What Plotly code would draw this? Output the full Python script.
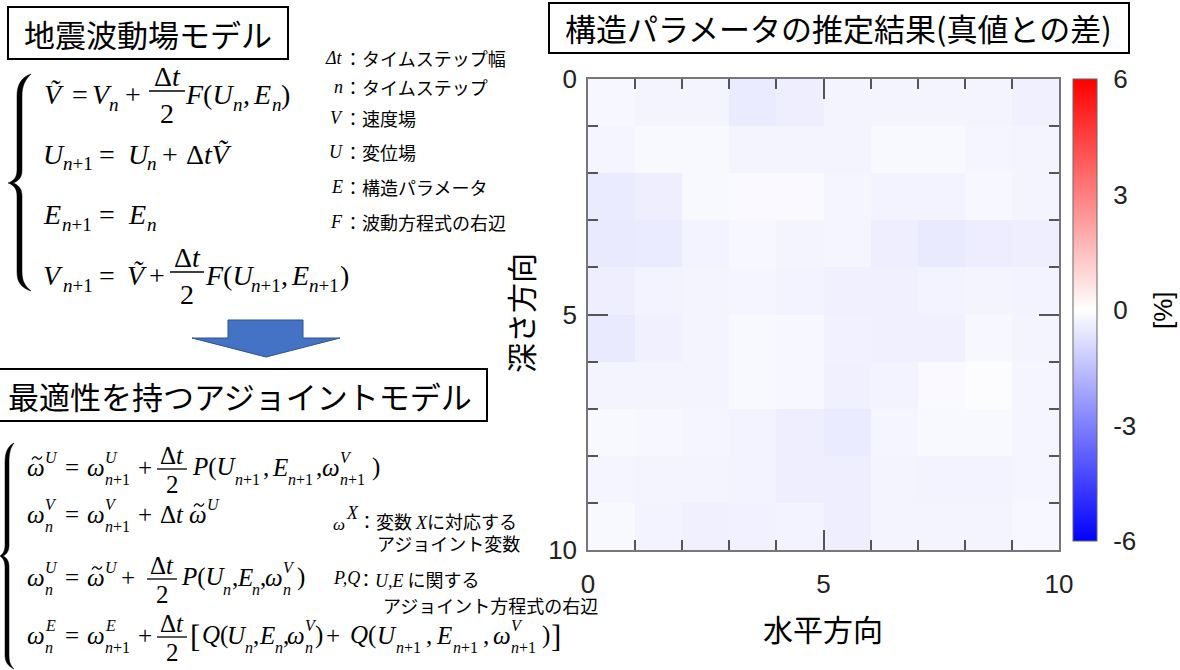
import re
import plotly.graph_objects as go

W, H = 1180, 670

# ---- data: estimated structure-parameter error [%] on a 10 x 10 grid
# rows: depth 0..9 (top to bottom), columns: horizontal 0..9
cell_centers = [0.5, 1.5, 2.5, 3.5, 4.5, 5.5, 6.5, 7.5, 8.5, 9.5]
diff_pct = [
    [-0.20, -0.26, -0.26, -0.46, -0.40, -0.26, -0.26, -0.26, -0.26, -0.36],
    [-0.24, -0.16, -0.16, -0.26, -0.26, -0.26, -0.16, -0.16, -0.24, -0.26],
    [-0.46, -0.40, -0.16, -0.13, -0.13, -0.24, -0.29, -0.29, -0.20, -0.26],
    [-0.50, -0.46, -0.29, -0.20, -0.26, -0.24, -0.40, -0.50, -0.42, -0.40],
    [-0.40, -0.29, -0.26, -0.24, -0.29, -0.36, -0.36, -0.29, -0.26, -0.29],
    [-0.50, -0.36, -0.26, -0.16, -0.20, -0.33, -0.36, -0.36, -0.20, -0.26],
    [-0.26, -0.26, -0.26, -0.16, -0.20, -0.36, -0.29, -0.13, -0.07, -0.24],
    [-0.16, -0.20, -0.24, -0.29, -0.40, -0.46, -0.24, -0.16, -0.16, -0.24],
    [-0.24, -0.26, -0.26, -0.29, -0.40, -0.40, -0.26, -0.29, -0.29, -0.24],
    [-0.16, -0.29, -0.36, -0.33, -0.29, -0.40, -0.26, -0.26, -0.26, -0.20],
]
axis_ticks = [0, 5, 10]
minor_ticks = [1, 2, 3, 4, 6, 7, 8, 9]
cbar_ticks = [-6, -3, 0, 3, 6]
cbar_lines = [-3, 0, 3]
cbar_range = [-6, 6]

SERIF = "Liberation Serif, Times New Roman, serif"
SANS = "Liberation Sans, Arial, sans-serif"
JP = "Noto Sans CJK JP, sans-serif"


def px(x):
    return x / W


def py(y):
    return 1 - y / H


def pix_path(s):
    return re.sub(r"(-?\d+\.?\d*),(-?\d+\.?\d*)",
                  lambda m: f"{px(float(m[1])):.5f},{py(float(m[2])):.5f}", s)


# ---- heatmap panel
PLOT_L, PLOT_R, PLOT_T, PLOT_B = 588, 1059, 79, 550
CB_L, CB_W, CB_T, CB_B = 1073, 24, 79, 541

fig = go.Figure(go.Heatmap(
    z=diff_pct, x=cell_centers, y=cell_centers,
    zmin=cbar_range[0], zmax=cbar_range[1],
    colorscale=[[0, "#0000ff"], [0.5, "#ffffff"], [1, "#ff0000"]],
    hoverinfo="skip",
    colorbar=dict(
        x=px(CB_L), xanchor="left", xpad=0, ypad=0,
        y=py(CB_B), yanchor="bottom", len=CB_B - CB_T, lenmode="pixels",
        thickness=CB_W, thicknessmode="pixels",
        outlinewidth=1, outlinecolor="#666",
        tickvals=cbar_ticks, ticktext=[str(v) for v in cbar_ticks],
        ticks="outside", ticklen=11, tickcolor="rgba(0,0,0,0)",
        tickfont=dict(family=SANS, size=26, color="#222"),
    ),
))

axis_common = dict(
    tickvals=axis_ticks, ticktext=[str(v) for v in axis_ticks],
    ticks="inside", ticklen=20, tickwidth=1.5, tickcolor="#555",
    showline=True, linecolor="#777", linewidth=1.5, mirror="allticks",
    showgrid=False, zeroline=False, automargin=False,
    tickfont=dict(family=SANS, size=26, color="#222"),
    minor=dict(tickvals=minor_ticks, ticks="inside", ticklen=10,
               tickwidth=1.5, tickcolor="#555", showgrid=False),
)
fig.update_xaxes(domain=[px(PLOT_L), px(PLOT_R)], range=[0, 10],
                 ticklabelstandoff=10, **axis_common)
fig.update_yaxes(domain=[py(PLOT_B), py(PLOT_T)], range=[10, 0],
                 ticklabelstandoff=4, **axis_common)

shapes = []
annotations = []


def note(x, y, text, size, family=SERIF, xanchor="left", angle=0, color="#000"):
    annotations.append(dict(
        x=px(x), y=py(y), xref="paper", yref="paper", text=text,
        showarrow=False, xanchor=xanchor, yanchor="middle", textangle=angle,
        borderpad=0, borderwidth=0,
        font=dict(family=family, size=size, color=color)))


def hline(x0, x1, y, width=1.3, color="#000"):
    shapes.append(dict(type="line", xref="paper", yref="paper",
                       x0=px(x0), x1=px(x1), y0=py(y), y1=py(y),
                       line=dict(color=color, width=width)))


def tilde(xc, yc):
    # small wave accent drawn above a symbol
    shapes.append(dict(type="path", xref="paper", yref="paper",
                       path=pix_path(f"M {xc - 5},{yc + 1.5} Q {xc - 2.5},{yc - 3} {xc},{yc} "
                                     f"Q {xc + 2.5},{yc + 3} {xc + 5},{yc - 1.5}"),
                       line=dict(color="#000", width=1.3)))


def box(x0, y0, x1, y1):
    shapes.append(dict(type="rect", xref="paper", yref="paper",
                       x0=px(x0), x1=px(x1), y0=py(y0), y1=py(y1),
                       line=dict(color="#000", width=2), fillcolor="rgba(0,0,0,0)"))


# colorbar separators at -3, 0, 3
for v in cbar_lines:
    yv = CB_B - (v - cbar_range[0]) / (cbar_range[1] - cbar_range[0]) * (CB_B - CB_T)
    hline(CB_L, CB_L + CB_W, yv, width=1, color="#444")

note(823, 628, "水平方向", 30, JP, xanchor="center")
note(520, 313, "深さ方向", 30, JP, xanchor="center", angle=-90)
note(1163, 310, "[%]", 26, SANS, xanchor="center", angle=-90)

# ---- title boxes
box(8, 7, 288, 59)
note(148, 33, "地震波動場モデル", 31, JP, xanchor="center")
box(-3, 369, 487, 421)
note(240, 395, "最適性を持つアジョイントモデル", 31, JP, xanchor="center")
box(549, 3, 1129, 53)
note(839, 28, "構造パラメータの推定結果(真値との差)", 31, JP, xanchor="center")

# ---- arrow between the two models
shapes.append(dict(type="path", xref="paper", yref="paper",
                   path=pix_path("M 228,320 L 303,320 L 303,338 L 340,338 L 266,357 L 192,338 L 228,338 Z"),
                   fillcolor="#4472C4", line=dict(color="#2F528F", width=1)))

# ---- braces
shapes.append(dict(type="path", xref="paper", yref="paper", fillcolor="#000",
                   line=dict(color="#000", width=0.5),
                   path=pix_path(
                       "M 31,74 C 22,77 17,84 17,96 L 17,170 C 17,177 14,181 8,183 "
                       "C 14,185 17,189 17,196 L 17,272 C 17,283 22,288 31,291 "
                       "C 25,286 22,281 22,272 L 22,196 C 22,189 19,185 13,183 "
                       "C 19,181 22,177 22,170 L 22,96 C 22,86 25,80 31,74 Z")))
shapes.append(dict(type="path", xref="paper", yref="paper", fillcolor="#000",
                   line=dict(color="#000", width=0.5),
                   path=pix_path(
                       "M 14,443 C 8,446 5,452 5,462 L 5,545 C 5,551 3,554 0,556 "
                       "C 3,558 5,561 5,567 L 5,655 C 5,662 8,666 14,669 "
                       "C 10,665 9,661 9,655 L 9,567 C 9,561 7,558 3,556 "
                       "C 7,554 9,551 9,545 L 9,462 C 9,455 10,448 14,443 Z")))


# ---- equations
def math_row(base_y, tokens, F, S, dsup, dsub, frac_dy, num_dy, den_dy, tilde_dy):
    for tok in tokens:
        kind = tok[0]
        if kind == "b":
            note(tok[1], base_y, tok[2], F)
        elif kind == "big":
            note(tok[1], base_y + 1, tok[2], F + 6)
        elif kind == "sup":
            note(tok[1], base_y + dsup, tok[2], S)
        elif kind == "sub":
            note(tok[1], base_y + dsub, tok[2], S)
        elif kind == "tilde":
            tilde(tok[1], base_y + tilde_dy)
        elif kind == "frac":
            xc, hw, num, den = tok[1], tok[2], tok[3], tok[4]
            ly = base_y + frac_dy
            hline(xc - hw, xc + hw, ly)
            note(xc, ly + num_dy, num, F, xanchor="center")
            note(xc, ly + den_dy, den, F, xanchor="center")


VT = "<i>\u1e7c</i>"          # V with tilde
W_ = "<i>\u03c9</i>"
DT = "\u0394<i>t</i>"
N1 = "<i>n</i>+1"
N = "<i>n</i>"

forward_rows = [
    (94, [("b", 44, VT), ("b", 72, "="), ("b", 92, "<i>V</i>"), ("sub", 109, N), ("b", 125, "+"),
          ("frac", 167, 18, DT, "2"),
          ("b", 185, "<i>F</i>(<i>U</i>"), ("sub", 233, N), ("b", 243, ","), ("b", 253, "<i>E</i>"),
          ("sub", 272, N), ("b", 281, ")")]),
    (154, [("b", 43, "<i>U</i>"), ("sub", 63, N1), ("b", 99, "="), ("b", 128, "<i>U</i>"),
           ("sub", 147, N), ("b", 162, "+"), ("b", 186, DT + VT)]),
    (214, [("b", 43, "<i>E</i>"), ("sub", 62, N1), ("b", 99, "="), ("b", 128, "<i>E</i>"),
           ("sub", 147, N)]),
    (275, [("b", 43, "<i>V</i>"), ("sub", 63, N1), ("b", 99, "="), ("b", 127, VT), ("b", 149, "+"),
           ("frac", 187, 17, DT, "2"),
           ("b", 205, "<i>F</i>(<i>U</i>"), ("sub", 251, N1), ("b", 281, ","), ("b", 291, "<i>E</i>"),
           ("sub", 309, N1), ("b", 340, ")")]),
]
for y, toks in forward_rows:
    math_row(y, toks, 28, 19, -9, 10, -3, -15, 22, -12)

adjoint_rows = [
    (467, [("b", 27, W_), ("tilde", 37), ("sup", 45, "<i>U</i>"), ("b", 65, "="), ("b", 87, W_),
           ("sup", 105, "<i>U</i>"), ("sub", 105, N1), ("b", 138, "+"),
           ("frac", 172, 15, DT, "2"),
           ("b", 192, "<i>P</i>(<i>U</i>"), ("sub", 235, N1), ("b", 263, ","), ("b", 272, "<i>E</i>"),
           ("sub", 288, N1), ("b", 316, ","), ("b", 322, W_), ("sup", 340, "<i>V</i>"),
           ("sub", 340, N1), ("b", 372, ")")]),
    (514, [("b", 27, W_), ("sup", 45, "<i>V</i>"), ("sub", 45, N), ("b", 65, "="), ("b", 87, W_),
           ("sup", 105, "<i>V</i>"), ("sub", 105, N1), ("b", 138, "+"), ("b", 160, DT),
           ("b", 189, W_), ("tilde", 199), ("sup", 207, "<i>U</i>")]),
    (577, [("b", 27, W_), ("sup", 45, "<i>U</i>"), ("sub", 45, N), ("b", 65, "="), ("b", 87, W_),
           ("tilde", 97), ("sup", 105, "<i>U</i>"), ("b", 121, "+"),
           ("frac", 162, 15, DT, "2"),
           ("b", 181, "<i>P</i>(<i>U</i>"), ("sub", 223, N), ("b", 232, ","), ("b", 237, "<i>E</i>"),
           ("sub", 252, N), ("b", 260, ","), ("b", 265, W_), ("sup", 283, "<i>V</i>"),
           ("sub", 283, N), ("b", 297, ")")]),
    (635, [("b", 27, W_), ("sup", 45, "<i>E</i>"), ("sub", 45, N), ("b", 65, "="), ("b", 87, W_),
           ("sup", 105, "<i>E</i>"), ("sub", 105, N1), ("b", 138, "+"),
           ("frac", 172, 15, DT, "2"),
           ("big", 190, "["), ("b", 202, "<i>Q</i>("), ("b", 227, "<i>U</i>"), ("sub", 245, N),
           ("b", 253, ","), ("b", 259, "<i>E</i>"), ("sub", 275, N), ("b", 283, ","), ("b", 287, W_),
           ("sup", 305, "<i>V</i>"), ("sub", 305, N), ("b", 315, ")"), ("b", 326, "+"),
           ("b", 350, "<i>Q</i>("), ("b", 377, "<i>U</i>"), ("sub", 396, N1), ("b", 426, ","),
           ("b", 436, "<i>E</i>"), ("sub", 453, N1), ("b", 483, ","), ("b", 493, W_),
           ("sup", 511, "<i>V</i>"), ("sub", 511, N1), ("b", 542, ")"), ("big", 551, "]")]),
]
for y, toks in adjoint_rows:
    math_row(y, toks, 25, 16, -10, 12, 2, -14, 15, -9)

# ---- symbol glossary
forward_glossary = [
    (58, "<i>\u0394t</i>", "タイムステップ幅"),
    (87, "<i>n</i>", "タイムステップ"),
    (118, "<i>V</i>", "速度場"),
    (152, "<i>U</i>", "変位場"),
    (187, "<i>E</i>", "構造パラメータ"),
    (222, "<i>F</i>", "波動方程式の右辺"),
]
for y, sym, txt in forward_glossary:
    note(343, y, sym, 18, SERIF, xanchor="right")
    note(344, y, "：" + txt, 18, JP)

SER_SPAN = "<span style='font-family:Liberation Serif, Times New Roman, serif'><i>{}</i></span>"
note(333, 524, W_, 17, SERIF)
note(346, 513, "<i>X</i>", 18, SERIF)
note(358, 521, "：変数 " + SER_SPAN.format("X") + "に対応する", 18, JP)
note(377, 543, "アジョイント変数", 18, JP)
note(333, 578, "<i>P,Q</i>", 18, SERIF)
note(357, 579, "：" + SER_SPAN.format("U,E") + " に関する", 18, JP)
note(383, 605, "アジョイント方程式の右辺", 18, JP)

fig.update_layout(
    width=W, height=H, margin=dict(l=0, r=0, t=0, b=0, pad=0, autoexpand=False),
    paper_bgcolor="#ffffff", plot_bgcolor="#ffffff",
    shapes=shapes, annotations=annotations, showlegend=False,
)

fig.write_html("out.html")
